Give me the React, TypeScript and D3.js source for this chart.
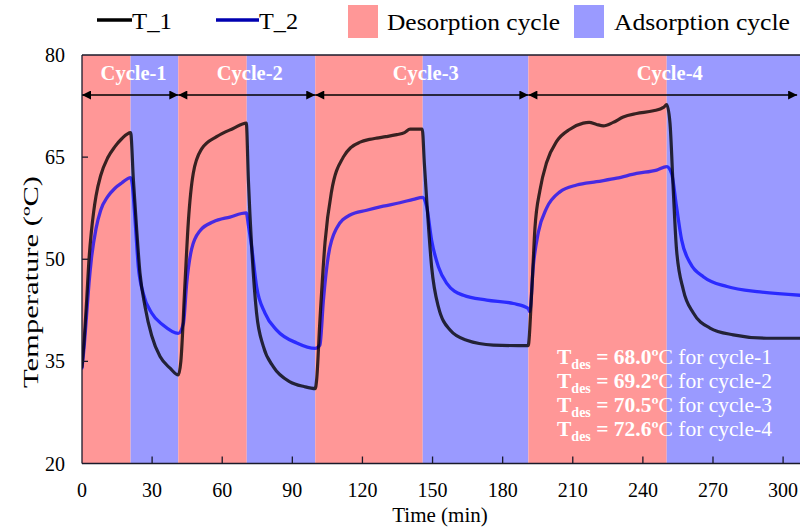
import React from "react";
import * as d3 from "d3";

const X_TICKS = [0, 30, 60, 90, 120, 150, 180, 210, 240, 270, 300];
const Y_TICKS = [20, 35, 50, 65, 80];

const PHASE_START = [0, 20.8, 41.2, 70.5, 99.8, 145.8, 191, 250.2];
const PHASE_END = [20.8, 41.2, 70.5, 99.8, 145.8, 191, 250.2, 308];
const PHASE_TYPE = ["des", "ads", "des", "ads", "des", "ads", "des", "ads"];

const CYCLE_LABELS = ["Cycle-1", "Cycle-2", "Cycle-3", "Cycle-4"];
const CYCLE_START = [0, 41.2, 99.8, 191];
const CYCLE_END = [41.2, 99.8, 191, 306];
const CYCLE_SWITCH = [20.8, 70.5, 145.8, 250.2];
const T_DES = ["68.0", "69.2", "70.5", "72.6"];

const T1: [number, number][] = [
  [0, 34.2], [1, 38.5], [2, 44], [3, 50], [4, 54], [5, 57], [6, 59.3], [8, 62.3], [11, 64.9], [14, 66.5], [17, 67.7], [20.8, 68.6],
  [22, 61.6], [23.4, 54.3], [24.8, 48], [27, 43], [29.8, 38.8], [33.4, 35.7], [37.7, 34], [41.2, 33.0],
  [42.3, 35], [44, 46], [45.5, 55.5], [47.6, 62.6], [51.2, 66.2], [57.6, 68], [64.7, 69.2], [70.3, 70.0],
  [71.2, 61.6], [72.6, 51.8], [74.7, 42.1], [77.6, 37.2], [81.9, 34.2], [89, 32], [95, 31.3], [99.8, 31.0],
  [100.4, 32.3], [101.8, 41], [104, 52.5], [106.8, 60], [111.8, 65], [115, 66.4], [119, 67.2], [123, 67.6],
  [126.1, 67.8], [130, 68.0], [134.7, 68.3], [138, 68.6], [140.4, 69.1], [145.6, 69.1],
  [146.5, 64], [147.5, 58.7], [149.6, 48.9], [152.5, 43], [157.5, 39.6], [164.6, 38.1], [176, 37.4], [190.9, 37.3],
  [192.4, 45], [193.8, 54.5], [196, 60.2], [198.8, 64.2], [203.1, 67.3], [208.8, 69.1], [214.5, 70.0], [217, 70.1],
  [220.2, 69.8], [223.1, 69.6], [227.3, 70.1], [231.6, 70.9], [237.3, 71.4], [244.5, 71.8], [248.8, 72.3], [250.2, 72.7],
  [251.6, 70], [253, 60.2], [254.4, 51.4], [257.3, 45.5], [261.6, 42.1], [268.7, 39.9], [278.7, 38.9], [293, 38.4], [308, 38.4],
];

const T2: [number, number][] = [
  [0, 34], [1, 37.5], [2, 42], [3, 46.5], [4, 50], [6, 54.5], [8, 57.2], [11, 59.2], [14, 60.4], [17, 61.2], [20.8, 62.0],
  [21.5, 61], [22.7, 55.8], [24.1, 48.9], [26.2, 45], [29.8, 42.1], [34.8, 40.3], [41.2, 39.1],
  [43.4, 40.6], [44.8, 46.5], [46.9, 51.5], [50.5, 54.2], [56.2, 55.5], [63.3, 56.2], [70.3, 56.8],
  [71.2, 55], [72.6, 51.8], [74.7, 46], [78.3, 42.1], [83.3, 39.6], [91.9, 37.7], [99.8, 36.9],
  [101.8, 37.4], [103.3, 44], [105.4, 50.5], [109, 54.6], [114.7, 56.5], [121.8, 57.2], [128.9, 57.8], [136, 58.3],
  [141.8, 58.8], [145.8, 59.1],
  [147.5, 57.7], [149.6, 52.8], [152.5, 48.9], [156, 46.5], [163.2, 44.7], [173.2, 44], [184.6, 43.5], [190.9, 42.8],
  [191.6, 42.3], [193.1, 49], [195.3, 54], [198.8, 57.5], [204.5, 59.9], [211.7, 60.9], [220.2, 61.4], [228.8, 61.9],
  [237.3, 62.6], [245.9, 63.1], [250.2, 63.6],
  [252.3, 62.6], [254.4, 57.7], [256.6, 52.8], [260.3, 49.4], [266, 47.4], [276, 46], [290.1, 45.2], [308, 44.7],
];

const W = 800;
const H = 531;
const M = { left: 82, top: 55, bottom: 463.5 };
const FONT = "'Liberation Serif', 'Times New Roman', serif";
const DES_COLOR = "#ff9797";
const ADS_COLOR = "#9a9aff";

export default function App() {
  const x = d3.scaleLinear().domain([0, 308]).range([M.left, M.left + 308 * 2.337]);
  const y = d3.scaleLinear().domain([20, 80]).range([M.bottom, M.top]);
  const line = d3
    .line<[number, number]>()
    .x((d) => x(d[0]))
    .y((d) => y(d[1]))
    .curve(d3.curveMonotoneX);

  const arrowY = 95;
  return (
    <svg
      width={W}
      height={H}
      style={{ position: "absolute", left: 0, top: 0, background: "#fff" }}
      fontFamily={FONT}
    >
      <defs>
        <marker
          id="arr"
          viewBox="0 0 10 10"
          refX={10}
          refY={5}
          markerWidth={10}
          markerHeight={9}
          markerUnits="userSpaceOnUse"
          orient="auto-start-reverse"
        >
          <path d="M0,0 L10,5 L0,10 z" fill="#000" />
        </marker>
        <clipPath id="plot">
          <rect x={M.left} y={M.top} width={W - M.left} height={M.bottom - M.top} />
        </clipPath>
      </defs>

      {/* legend */}
      <g fontSize={24}>
        <line x1={97} x2={132} y1={20} y2={20} stroke="#000" strokeWidth={3.5} />
        <text x={132} y={29} textLength={40} lengthAdjust="spacingAndGlyphs">T_1</text>
        <line x1={216} x2={259} y1={20} y2={20} stroke="#0000b0" strokeWidth={3.5} />
        <text x={259} y={29} textLength={39} lengthAdjust="spacingAndGlyphs">T_2</text>
        <rect x={348} y={5} width={30} height={33} fill={DES_COLOR} />
        <text x={387} y={30} textLength={173} lengthAdjust="spacingAndGlyphs">Desorption cycle</text>
        <rect x={574} y={5} width={30} height={33} fill={ADS_COLOR} />
        <text x={614} y={30} textLength={176} lengthAdjust="spacingAndGlyphs">Adsorption cycle</text>
      </g>

      {/* phases */}
      <g>
        {PHASE_START.map((s, i) => (
          <rect
            key={i}
            x={x(s)}
            y={M.top}
            width={x(PHASE_END[i]) - x(s)}
            height={M.bottom - M.top}
            fill={PHASE_TYPE[i] === "des" ? DES_COLOR : ADS_COLOR}
          />
        ))}
      </g>

      {/* cycle arrows & labels */}
      <g>
        {CYCLE_START.map((s, i) => (
          <line
            key={i}
            x1={x(s)}
            x2={x(CYCLE_END[i])}
            y1={arrowY}
            y2={arrowY}
            stroke="#000"
            strokeWidth={1.4}
            markerStart="url(#arr)"
            markerEnd="url(#arr)"
          />
        ))}
        {CYCLE_LABELS.map((c, i) => (
          <text
            key={c}
            x={x(CYCLE_SWITCH[i]) + 3}
            y={80}
            textAnchor="middle"
            fill="#fff"
            fontWeight="bold"
            fontSize={20.5}
          >
            {c}
          </text>
        ))}
      </g>

      {/* lines */}
      <g clipPath="url(#plot)" fill="none" strokeLinejoin="round" strokeLinecap="round">
        <path d={line(T2) || ""} stroke="#0000ff" strokeWidth={3.3} strokeOpacity={0.72} />
        <path d={line(T1) || ""} stroke="#000" strokeWidth={3.2} strokeOpacity={0.78} />
      </g>

      {/* annotation */}
      <g fill="#fff" fontSize={21.5}>
        {T_DES.map((v, i) => (
          <text key={i} x={557} y={364 + i * 24}>
            <tspan fontWeight="bold">T</tspan>
            <tspan fontWeight="bold" fontSize={14} dy={5}>des</tspan>
            <tspan fontWeight="bold" dy={-5}>{` = ${v}º`}</tspan>
            <tspan>{`C for cycle-${i + 1}`}</tspan>
          </text>
        ))}
      </g>

      {/* frame and axes */}
      <g stroke="#1a1a2a" strokeWidth={1.3} fill="none">
        <line x1={M.left} x2={W} y1={M.top} y2={M.top} />
        <line x1={M.left} x2={W} y1={M.bottom} y2={M.bottom} />
        <line x1={M.left} x2={M.left} y1={M.top} y2={M.bottom} />
        {X_TICKS.filter((t) => t > 0).map((t) => (
          <line key={t} x1={x(t)} x2={x(t)} y1={M.bottom} y2={M.bottom - 7} />
        ))}
        {Y_TICKS.filter((t) => t > 20 && t < 80).map((t) => (
          <line key={t} x1={M.left} x2={M.left + 6} y1={y(t)} y2={y(t)} />
        ))}
      </g>

      <g fontSize={20} fill="#000">
        {X_TICKS.map((t) => (
          <text key={t} x={x(t)} y={497} textAnchor="middle">
            {t}
          </text>
        ))}
        {Y_TICKS.map((t) => (
          <text key={t} x={65} y={y(t)} dy="0.35em" textAnchor="end">
            {t}
          </text>
        ))}
        <text x={440} y={522} textAnchor="middle" fontSize={21}>
          Time (min)
        </text>
        <text
          transform={`translate(38, 282) rotate(-90)`}
          textAnchor="middle"
          fontSize={22}
          textLength={212}
          lengthAdjust="spacingAndGlyphs"
        >
          Temperature (ºC)
        </text>
      </g>
    </svg>
  );
}
